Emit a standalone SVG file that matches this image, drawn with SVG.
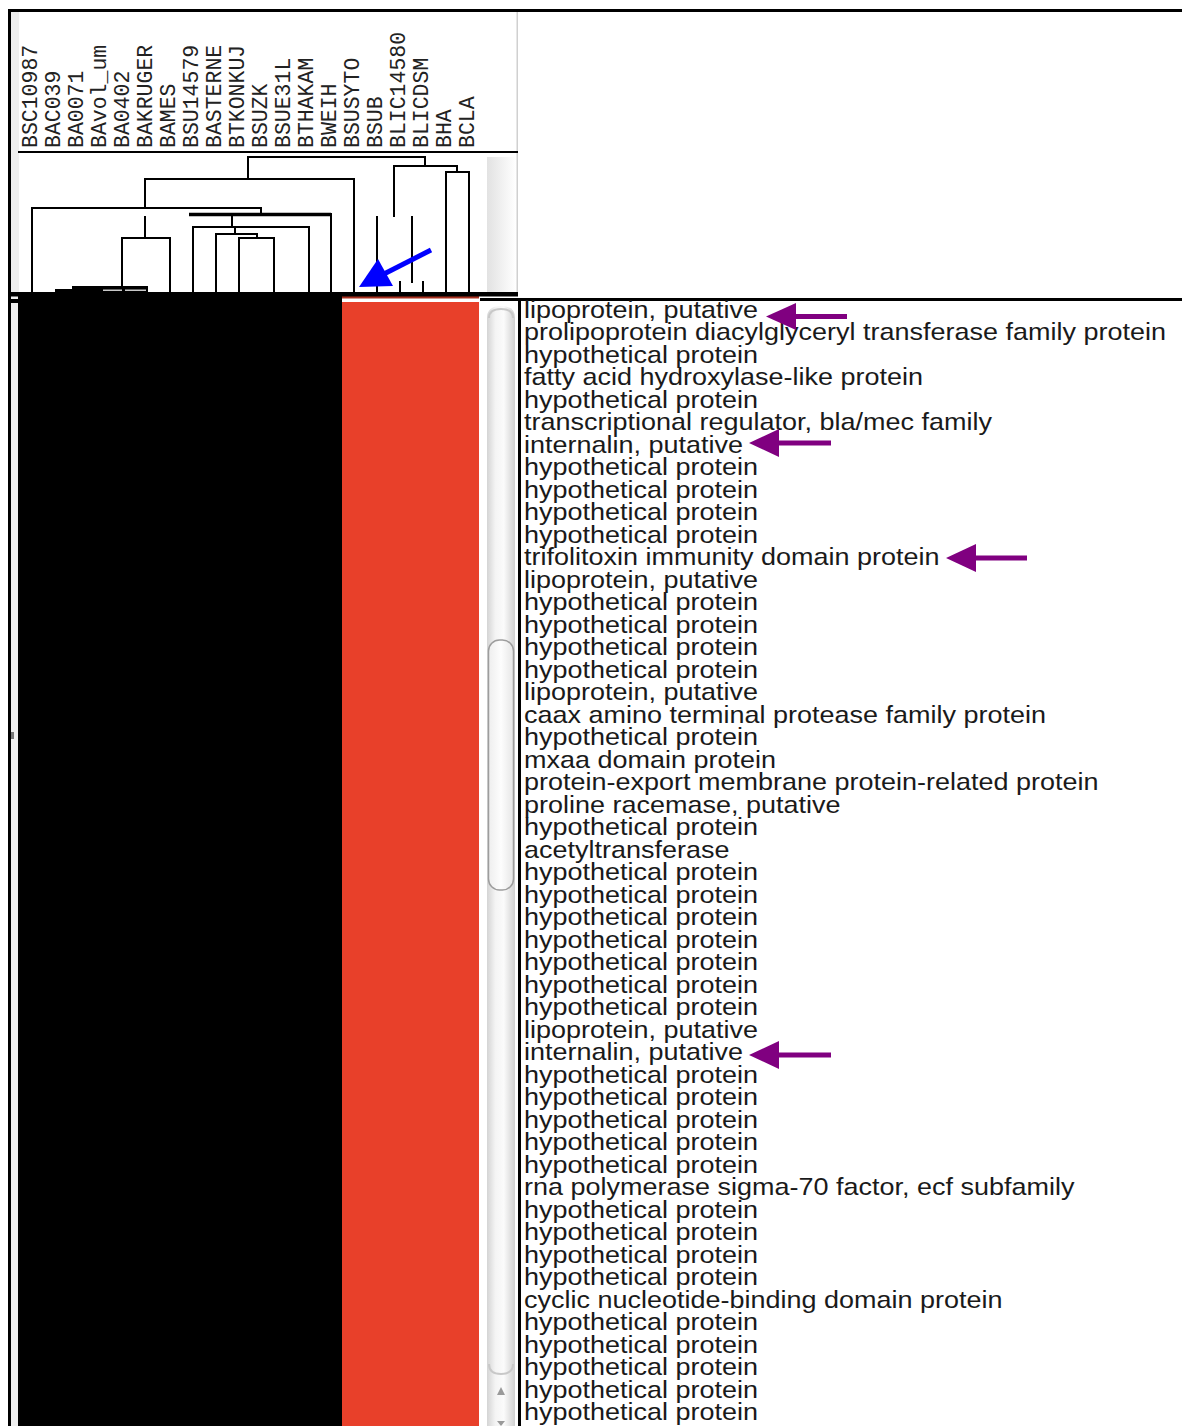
<svg xmlns="http://www.w3.org/2000/svg" width="1182" height="1426" viewBox="0 0 1182 1426">
<style>
.lbl{font-family:"Liberation Mono","DejaVu Sans Mono",monospace;font-size:21.5px;fill:#222}
.gene{font-family:"Liberation Sans",Arial,sans-serif;font-size:24px;fill:#1a1a1a}
.tree{stroke:#000;stroke-width:2;fill:none;stroke-linecap:square}
.parrow{fill:#800080}
.pshaft{stroke:#800080;stroke-width:5}
</style>
<defs>
<linearGradient id="trk" x1="0" y1="0" x2="1" y2="0">
<stop offset="0" stop-color="#d4d4d4"/>
<stop offset="0.3" stop-color="#f4f4f4"/>
<stop offset="0.6" stop-color="#fbfbfb"/>
<stop offset="1" stop-color="#d0d0d0"/>
</linearGradient>
<linearGradient id="thumb" x1="0" y1="0" x2="1" y2="0">
<stop offset="0" stop-color="#eeeeee"/>
<stop offset="0.5" stop-color="#fdfdfd"/>
<stop offset="1" stop-color="#e6e6e6"/>
</linearGradient>
<linearGradient id="hdr" x1="0" y1="0" x2="1" y2="0">
<stop offset="0" stop-color="#e2e2e2"/>
<stop offset="1" stop-color="#ffffff"/>
</linearGradient>
</defs>
<rect x="0" y="0" width="1182" height="1426" fill="#fff"/>

<!-- frame -->
<g id="frame">
<rect x="8" y="9" width="1174" height="3" fill="#000"/>
<rect x="8" y="9" width="3" height="1417" fill="#000"/>
<rect x="11" y="12" width="8" height="1414" fill="#efefef"/>
<rect x="18.5" y="300" width="1.5" height="1126" fill="#bdbdbd"/>
<rect x="11" y="732" width="3" height="7" fill="#777"/>
<rect x="516.5" y="12" width="1.5" height="280" fill="#d0d0d0"/>
<rect x="18" y="151" width="500" height="2" fill="#000"/>
<rect x="487" y="157" width="29" height="135" fill="url(#hdr)"/>
</g>

<!-- strain labels -->
<g id="labels">
<text class="lbl" transform="translate(37,148) rotate(-90)">BSC10987</text>
<text class="lbl" transform="translate(60,148) rotate(-90)">BAC039</text>
<text class="lbl" transform="translate(83,148) rotate(-90)">BA0071</text>
<text class="lbl" transform="translate(106,148) rotate(-90)">BAvol_um</text>
<text class="lbl" transform="translate(129,148) rotate(-90)">BA0402</text>
<text class="lbl" transform="translate(152,148) rotate(-90)">BAKRUGER</text>
<text class="lbl" transform="translate(175,148) rotate(-90)">BAMES</text>
<text class="lbl" transform="translate(198,148) rotate(-90)">BSU14579</text>
<text class="lbl" transform="translate(221,148) rotate(-90)">BASTERNE</text>
<text class="lbl" transform="translate(244,148) rotate(-90)">BTKONKUJ</text>
<text class="lbl" transform="translate(267,148) rotate(-90)">BSUZK</text>
<text class="lbl" transform="translate(290,148) rotate(-90)">BSUE31L</text>
<text class="lbl" transform="translate(313,148) rotate(-90)">BTHAKAM</text>
<text class="lbl" transform="translate(336,148) rotate(-90)">BWEIH</text>
<text class="lbl" transform="translate(359,148) rotate(-90)">BSUSYTO</text>
<text class="lbl" transform="translate(382,148) rotate(-90)">BSUB</text>
<text class="lbl" transform="translate(405,148) rotate(-90)">BLIC14580</text>
<text class="lbl" transform="translate(428,148) rotate(-90)">BLICDSM</text>
<text class="lbl" transform="translate(451,148) rotate(-90)">BHA</text>
<text class="lbl" transform="translate(474,148) rotate(-90)">BCLA</text>
</g>

<!-- dendrogram -->
<g id="connectors">
<path class="tree" d="M248,179 V157 H425 V166"/>
<path class="tree" d="M394,216 V166 H457 V172"/>
<path class="tree" d="M446,292 V172 H469 V292"/>
<path class="tree" d="M145,208 V179 H354 V292"/>
<path class="tree" d="M32,292 V208 H261 V213"/>
<path d="M189,214.5 H331" stroke="#000" stroke-width="3.5"/>
<path class="tree" d="M331,214 V292"/>
<path class="tree" d="M232,215 V227"/>
<path class="tree" d="M193,292 V227 H309 V292"/>
<path class="tree" d="M235,227 V234"/>
<path class="tree" d="M216,292 V234 H257 V238"/>
<path class="tree" d="M239,292 V238 H274 V292"/>
<path class="tree" d="M145,217 V238"/>
<path class="tree" d="M122,288 V238 H170 V292"/>
<path class="tree" d="M377,217 V292"/>
<path class="tree" d="M412,217 V282"/>
<path class="tree" d="M400,282 V292"/>
<path class="tree" d="M423,282 V292"/>
</g>

<!-- data block -->
<g id="heatmap">
<path d="M18,292 H55 V289 H72 V286 H148 V292 H342 V1426 H18 Z" fill="#000"/>
<rect x="103" y="289.5" width="19" height="1.5" fill="#c8c8c8"/>
<rect x="125" y="289.5" width="21" height="1.5" fill="#c8c8c8"/>
<rect x="342" y="302" width="137" height="1124" fill="#e8402a"/>
<rect x="342" y="296" width="137" height="2.5" fill="#a8301f"/>
<rect x="10" y="292" width="508" height="4.5" fill="#000"/>
<rect x="11" y="299" width="9" height="4" fill="#000"/>
</g>

<!-- blue arrow -->
<g id="blue-arrow">
<line x1="431" y1="250" x2="380" y2="276" stroke="#0000ff" stroke-width="5"/>
<polygon points="359,287 378,259 393,286" fill="#0000ff"/>
</g>

<!-- scrollbar -->
<g id="scrollbar">
<path d="M487,1426 V318 Q487,306 501,306 Q515,306 515,318 V1426 Z" fill="url(#trk)"/>
<path d="M489,318 Q489,309 501,309 Q513,309 513,318" fill="none" stroke="#c8c8c8" stroke-width="2"/>
<rect x="488.5" y="640" width="25" height="250" rx="11" fill="url(#thumb)" stroke="#9d9d9d" stroke-width="1.5"/>
<path d="M489,1364 Q489,1374 501,1374 Q513,1374 513,1364" fill="none" stroke="#c8c8c8" stroke-width="2"/>
<polygon points="501,1387 497,1395 505,1395" fill="#9a9a9a"/>
<polygon points="497,1421 505,1421 501,1426" fill="#9a9a9a"/>
</g>

<!-- text panel borders -->
<g id="panel">
<rect x="480" y="298" width="702" height="3" fill="#000"/>
<rect x="518" y="298" width="3" height="1128" fill="#000"/>
</g>

<!-- gene list -->
<g id="genes" transform="translate(524,0) scale(1.125,1)">
<text class="gene" x="0" y="318">lipoprotein, putative</text>
<text class="gene" x="0" y="340.5">prolipoprotein diacylglyceryl transferase family protein</text>
<text class="gene" x="0" y="363">hypothetical protein</text>
<text class="gene" x="0" y="385.5">fatty acid hydroxylase-like protein</text>
<text class="gene" x="0" y="408">hypothetical protein</text>
<text class="gene" x="0" y="430.5">transcriptional regulator, bla/mec family</text>
<text class="gene" x="0" y="453">internalin, putative</text>
<text class="gene" x="0" y="475.5">hypothetical protein</text>
<text class="gene" x="0" y="498">hypothetical protein</text>
<text class="gene" x="0" y="520.5">hypothetical protein</text>
<text class="gene" x="0" y="543">hypothetical protein</text>
<text class="gene" x="0" y="565.5">trifolitoxin immunity domain protein</text>
<text class="gene" x="0" y="588">lipoprotein, putative</text>
<text class="gene" x="0" y="610.5">hypothetical protein</text>
<text class="gene" x="0" y="633">hypothetical protein</text>
<text class="gene" x="0" y="655.5">hypothetical protein</text>
<text class="gene" x="0" y="678">hypothetical protein</text>
<text class="gene" x="0" y="700.5">lipoprotein, putative</text>
<text class="gene" x="0" y="723">caax amino terminal protease family protein</text>
<text class="gene" x="0" y="745.5">hypothetical protein</text>
<text class="gene" x="0" y="768">mxaa domain protein</text>
<text class="gene" x="0" y="790.5">protein-export membrane protein-related protein</text>
<text class="gene" x="0" y="813">proline racemase, putative</text>
<text class="gene" x="0" y="835.5">hypothetical protein</text>
<text class="gene" x="0" y="858">acetyltransferase</text>
<text class="gene" x="0" y="880.5">hypothetical protein</text>
<text class="gene" x="0" y="903">hypothetical protein</text>
<text class="gene" x="0" y="925.5">hypothetical protein</text>
<text class="gene" x="0" y="948">hypothetical protein</text>
<text class="gene" x="0" y="970.5">hypothetical protein</text>
<text class="gene" x="0" y="993">hypothetical protein</text>
<text class="gene" x="0" y="1015.5">hypothetical protein</text>
<text class="gene" x="0" y="1038">lipoprotein, putative</text>
<text class="gene" x="0" y="1060.5">internalin, putative</text>
<text class="gene" x="0" y="1083">hypothetical protein</text>
<text class="gene" x="0" y="1105.5">hypothetical protein</text>
<text class="gene" x="0" y="1128">hypothetical protein</text>
<text class="gene" x="0" y="1150.5">hypothetical protein</text>
<text class="gene" x="0" y="1173">hypothetical protein</text>
<text class="gene" x="0" y="1195.5">rna polymerase sigma-70 factor, ecf subfamily</text>
<text class="gene" x="0" y="1218">hypothetical protein</text>
<text class="gene" x="0" y="1240.5">hypothetical protein</text>
<text class="gene" x="0" y="1263">hypothetical protein</text>
<text class="gene" x="0" y="1285.5">hypothetical protein</text>
<text class="gene" x="0" y="1308">cyclic nucleotide-binding domain protein</text>
<text class="gene" x="0" y="1330.5">hypothetical protein</text>
<text class="gene" x="0" y="1353">hypothetical protein</text>
<text class="gene" x="0" y="1375.5">hypothetical protein</text>
<text class="gene" x="0" y="1398">hypothetical protein</text>
<text class="gene" x="0" y="1420.5">hypothetical protein</text>
</g>

<!-- purple arrows -->
<g id="purple-arrows">
<line class="pshaft" x1="794" y1="316.5" x2="847" y2="316.5"/>
<polygon class="parrow" points="766,316.5 796,303 796,330"/>
<line class="pshaft" x1="777" y1="443" x2="831" y2="443"/>
<polygon class="parrow" points="749,443 779,429 779,457"/>
<line class="pshaft" x1="974" y1="558" x2="1027" y2="558"/>
<polygon class="parrow" points="946,558 976,544 976,572"/>
<line class="pshaft" x1="777" y1="1055" x2="831" y2="1055"/>
<polygon class="parrow" points="749,1055 779,1041 779,1069"/>
</g>
</svg>
